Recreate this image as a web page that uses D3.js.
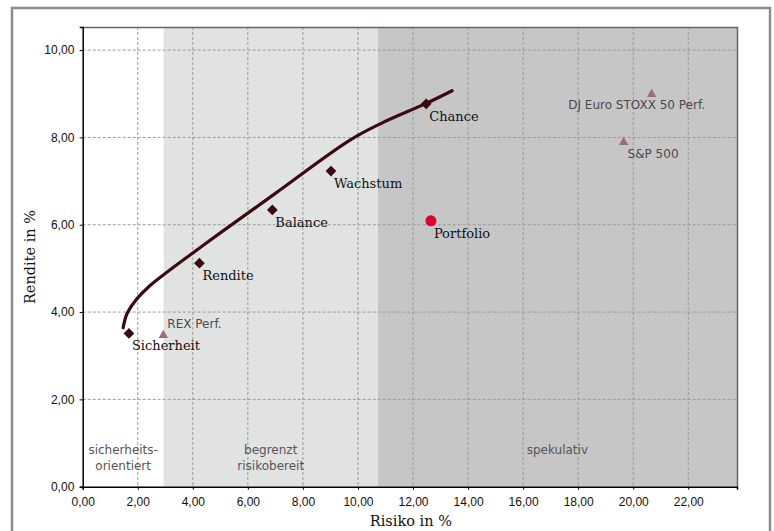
<!DOCTYPE html>
<html>
<head>
<meta charset="utf-8">
<script src="https://cdn.jsdelivr.net/npm/d3@7/dist/d3.min.js"></script>
<style>
  body { margin: 0; background: #fff; }
  svg { display: block; }
</style>
</head>
<body>
<svg id="chart"></svg>
<script>
// model portfolios (risk %, return %)
var profileNames = ["Sicherheit", "Rendite", "Balance", "Wachstum", "Chance"];
var profileRisk = [1.68, 4.24, 6.89, 9.02, 12.48];
var profileReturn = [3.51, 5.12, 6.34, 7.23, 8.77];

// benchmarks
var benchNames = ["REX Perf.", "DJ Euro STOXX 50 Perf.", "S&P 500"];
var benchRisk = [2.93, 20.67, 19.65];
var benchReturn = [3.47, 8.99, 7.89];

// current portfolio
var portfolioRisk = [12.65];
var portfolioReturn = [6.09];

// efficient frontier
var frontierRisk = [1.47, 1.6, 1.9, 2.4, 2.93, 4.1, 5.1, 7.0, 9.71, 10.9, 12.48, 13.42];
var frontierReturn = [3.64, 3.95, 4.25, 4.58, 4.85, 5.4, 5.86, 6.72, 7.94, 8.34, 8.78, 9.07];

// risk zones
var zoneBounds = [0, 2.94, 10.72, 23.77];
var zoneLabels = [["sicherheits-", "orientiert"], ["begrenzt", "risikobereit"], ["spekulativ"]];

var xTicks = [0, 2, 4, 6, 8, 10, 12, 14, 16, 18, 20, 22];
var yTicks = [0, 2, 4, 6, 8, 10];

var W = 774, H = 531;
var margin = { top: 27, right: 37, bottom: 44.3, left: 82.7 };
var w = W - margin.left - margin.right;
var h = H - margin.top - margin.bottom;

var zoneFill = ["#ffffff", "#e1e2e2", "#c6c6c6"];
var darkRed = "#3a0a10";

var de = d3.formatLocale({ decimal: ",", thousands: ".", grouping: [3], currency: ["", " €"] });
var fmt = de.format(".2f");

var svg = d3.select("#chart").attr("width", W).attr("height", H);

// outer frame
svg.append("rect")
  .attr("x", 12).attr("y", 8)
  .attr("width", 758).attr("height", 600)
  .attr("fill", "none")
  .attr("stroke", "#8c8c8c")
  .attr("stroke-width", 2.5);

var g = svg.append("g").attr("transform", "translate(" + margin.left + "," + margin.top + ")");

var x = d3.scaleLinear().domain([0, zoneBounds[zoneBounds.length - 1]]).range([0, w]);
var y = d3.scaleLinear().domain([0, 10.53]).range([h, 0]);

// zones
var zones = zoneLabels.map(function (lbl, i) {
  return { from: zoneBounds[i], to: zoneBounds[i + 1], label: lbl, i: i };
});

g.selectAll("rect.zone").data(zones).enter().append("rect")
  .attr("class", "zone")
  .attr("x", function (d) { return x(d.from); })
  .attr("y", 0)
  .attr("width", function (d) { return x(d.to) - x(d.from); })
  .attr("height", h)
  .attr("fill", function (d) { return zoneFill[d.i]; });

// grid
g.selectAll("line.vgrid").data(xTicks.slice(1)).enter().append("line")
  .attr("x1", function (d) { return x(d); })
  .attr("x2", function (d) { return x(d); })
  .attr("y1", 0).attr("y2", h)
  .attr("stroke", "#9a9a9a")
  .attr("stroke-dasharray", "3,2");

g.selectAll("line.hgrid").data(yTicks.slice(1)).enter().append("line")
  .attr("x1", 0).attr("x2", w)
  .attr("y1", function (d) { return y(d); })
  .attr("y2", function (d) { return y(d); })
  .attr("stroke", "#9a9a9a")
  .attr("stroke-dasharray", "3,2");

// zone labels
zones.forEach(function (z) {
  var t = g.append("text")
    .attr("x", x((z.from + z.to) / 2))
    .attr("y", h - 33)
    .attr("text-anchor", "middle")
    .attr("font-family", "DejaVu Sans")
    .attr("font-size", 12)
    .attr("fill", "#555");
  z.label.forEach(function (line, k) {
    t.append("tspan")
      .attr("x", x((z.from + z.to) / 2))
      .attr("dy", k === 0 ? 0 : 16)
      .text(line);
  });
});

// plot border (top/right)
g.append("path")
  .attr("d", "M0,0.5H" + (w + 0.5) + "V" + h)
  .attr("fill", "none")
  .attr("stroke", "#666")
  .attr("stroke-width", 1.5);

// axes
var xAxis = g.append("g")
  .attr("transform", "translate(0," + h + ")")
  .call(d3.axisBottom(x).tickValues(xTicks).tickFormat(fmt).tickSize(3));
var yAxis = g.append("g")
  .call(d3.axisLeft(y).tickValues(yTicks).tickFormat(fmt).tickSize(3));

[xAxis, yAxis].forEach(function (a) {
  a.select(".domain").attr("stroke", "#000").attr("stroke-width", 1.5);
  a.selectAll("text")
    .attr("font-family", "Liberation Sans, Arial, sans-serif")
    .attr("font-size", 12)
    .attr("fill", "#111");
});
xAxis.selectAll("text").attr("dy", "1.1em");
yAxis.selectAll("text").attr("dx", "-0.2em");

// axis titles
svg.append("text")
  .attr("x", margin.left + w / 2 + 1)
  .attr("y", 526)
  .attr("text-anchor", "middle")
  .attr("font-family", "DejaVu Serif")
  .attr("font-size", 14.5)
  .attr("fill", "#111")
  .text("Risiko in %");

svg.append("text")
  .attr("transform", "translate(35,257) rotate(-90)")
  .attr("text-anchor", "middle")
  .attr("font-family", "DejaVu Serif")
  .attr("font-size", 14.5)
  .attr("fill", "#111")
  .text("Rendite in %");

// frontier line
var frontier = frontierRisk.map(function (r, i) { return [r, frontierReturn[i]]; });
var line = d3.line()
  .x(function (d) { return x(d[0]); })
  .y(function (d) { return y(d[1]); })
  .curve(d3.curveCatmullRom.alpha(0.5));

g.append("path")
  .datum(frontier)
  .attr("d", line)
  .attr("fill", "none")
  .attr("stroke", darkRed)
  .attr("stroke-width", 3.2)
  .attr("stroke-linecap", "round");

// model portfolios
var profiles = profileNames.map(function (n, i) {
  return { name: n, risk: profileRisk[i], ret: profileReturn[i] };
});

g.selectAll("path.profile").data(profiles).enter().append("path")
  .attr("d", d3.symbol().type(d3.symbolSquare).size(58))
  .attr("transform", function (d) {
    return "translate(" + x(d.risk) + "," + y(d.ret) + ") rotate(45)";
  })
  .attr("fill", darkRed);

g.selectAll("text.profile").data(profiles).enter().append("text")
  .attr("x", function (d) { return x(d.risk) + 3; })
  .attr("y", function (d) { return y(d.ret) + 17; })
  .attr("font-family", "DejaVu Serif")
  .attr("font-size", 13)
  .attr("fill", "#111")
  .text(function (d) { return d.name; });

// benchmarks
var benchLabelPos = [
  { dx: 4, dy: -7, anchor: "start" },
  { dx: -15, dy: 15, anchor: "middle" },
  { dx: 4, dy: 16, anchor: "start" }
];
var benches = benchNames.map(function (n, i) {
  return { name: n, risk: benchRisk[i], ret: benchReturn[i], pos: benchLabelPos[i] };
});

g.selectAll("path.bench").data(benches).enter().append("path")
  .attr("d", d3.symbol().type(d3.symbolTriangle).size(38))
  .attr("transform", function (d) {
    return "translate(" + x(d.risk) + "," + y(d.ret) + ")";
  })
  .attr("fill", "#9b6b7e");

g.selectAll("text.bench").data(benches).enter().append("text")
  .attr("x", function (d) { return x(d.risk) + d.pos.dx; })
  .attr("y", function (d) { return y(d.ret) + d.pos.dy; })
  .attr("text-anchor", function (d) { return d.pos.anchor; })
  .attr("font-family", "DejaVu Sans")
  .attr("font-size", 12)
  .attr("fill", "#4a4a4a")
  .text(function (d) { return d.name; });

// portfolio
g.selectAll("circle.pf").data(portfolioRisk).enter().append("circle")
  .attr("cx", function (d) { return x(d); })
  .attr("cy", function (d, i) { return y(portfolioReturn[i]); })
  .attr("r", 5.5)
  .attr("fill", "#dc0030");

g.selectAll("text.pf").data(portfolioRisk).enter().append("text")
  .attr("x", function (d) { return x(d) + 3; })
  .attr("y", function (d, i) { return y(portfolioReturn[i]) + 17; })
  .attr("font-family", "DejaVu Serif")
  .attr("font-size", 13)
  .attr("fill", "#111")
  .text("Portfolio");
</script>
</body>
</html>
